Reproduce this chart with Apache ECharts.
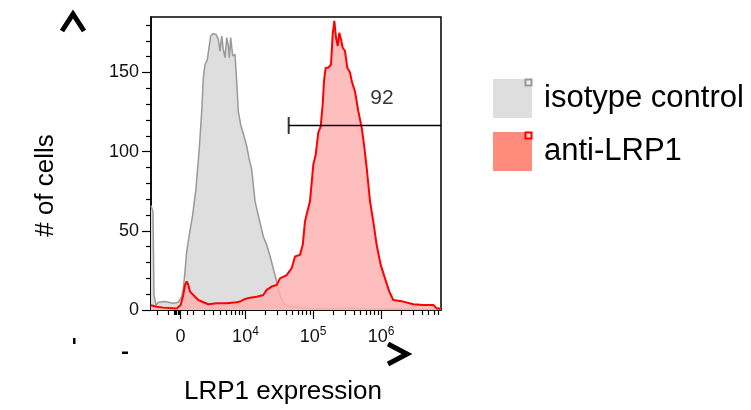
<!DOCTYPE html>
<html>
<head>
<meta charset="utf-8">
<script src="https://cdn.jsdelivr.net/npm/echarts@6/dist/echarts.min.js"></script>
<style>
  html, body { margin: 0; padding: 0; background: #fff; }
  #chart { width: 751px; height: 410px; }
</style>
</head>
<body>
<div id="chart"></div>
<script>
// histogram positions are on the biexponential display scale (decades above 0)
const isotypePos = [-0.434, -0.405, -0.390, -0.360, -0.326, -0.228, -0.106, -0.032,
  0.018, 0.041, 0.066, 0.091, 0.129, 0.179, 0.228, 0.276, 0.312, 0.335,
  0.360, 0.394, 0.419, 0.444, 0.482, 0.522, 0.556, 0.581, 0.606, 0.629,
  0.654, 0.679, 0.703, 0.718, 0.738, 0.768, 0.801, 0.826, 0.850, 0.885,
  0.934, 0.974, 1.007, 1.047, 1.096, 1.159, 1.218, 1.268, 1.326, 1.375,
  1.415, 1.463, 1.512, 1.610, 1.900, 2.200, 2.500, 2.800, 3.100, 3.400,
  3.831];
const isotypeCount = [66, 62, 9.5, 3, 4.9, 5.3, 4.2, 4.9,
  8.4, 13.7, 24.3, 36.9, 47.5, 60.1, 77, 102, 125.5, 146.6,
  155, 158, 165.6, 173, 174.5, 174, 171, 163.5, 173, 164.6,
  159.3, 172, 166.7, 159.3, 172, 160.4, 161.4, 144.5, 125.5, 117,
  109.7, 103.4, 96, 88.6, 68.6, 57, 46.4, 41, 32.7, 24.3,
  18, 9.5, 4.2, 2, 1, 0.6, 1.2, 0.5, 0.8, 0.4,
  0.3];

const lrp1Pos = [-0.434, -0.424, -0.350, -0.253, -0.056, 0.003, 0.041, 0.066, 0.091, 0.115,
  0.140, 0.188, 0.262, 0.335, 0.409, 0.532, 0.679, 0.826, 0.875, 0.949,
  1.022, 1.121, 1.218, 1.268, 1.341, 1.415, 1.463, 1.562, 1.635, 1.684,
  1.757, 1.797, 1.831, 1.865, 1.904, 1.953, 1.988, 2.026, 2.062, 2.091,
  2.110, 2.135, 2.174, 2.213, 2.238, 2.262, 2.287, 2.312, 2.335, 2.360,
  2.385, 2.419, 2.453, 2.493, 2.518, 2.566, 2.615, 2.665, 2.699, 2.738,
  2.787, 2.835, 2.885, 2.944, 3.007, 3.071, 3.129, 3.276, 3.424, 3.571,
  3.718, 3.768, 3.831];
const lrp1Count = [3, 2.1, 2, 1.5, 1, 3.2, 9.5, 15.8, 18, 15.8,
  11.6, 9.5, 6.3, 4.9, 3.6, 4.2, 4.2, 4.9, 5.3, 7,
  7.8, 8.4, 9.5, 12.7, 14.8, 15.8, 20, 22, 26.4, 33.8,
  34.8, 41, 56, 62, 68.6, 91.8, 98, 112, 116, 129.8,
  144.5, 153, 153, 155, 174, 182.5, 172, 166.7, 175, 171,
  165.6, 163.5, 153, 150, 144.5, 138, 125.5, 115, 104.4, 89.7,
  68.6, 56, 41, 28.5, 20, 11.6, 6.3, 5.3, 3.6, 3.2,
  3.2, 1, 1];

// gate (positions on display scale, level in cells)
const gateStart = 1.591;
const gateEnd = 3.831;
const gateLevel = 116.5;
const gateText = '92';
const gateTextPos = 2.963;
const gateTextLevel = 133.5;

// x ticks as raw expression values
const xMajorValues = [0, 1e4, 1e5, 1e6];
const xMajorLabels = ['0', '10^4', '10^5', '10^6'];
const xMinorValues = [-2000, -1000, -500, -400, -300, -200, -100, 500, 1000,
  2000, 3000, 4000, 5000, 6000, 7000, 8000, 9000,
  2e4, 3e4, 4e4, 5e4, 6e4, 7e4, 8e4, 9e4,
  2e5, 3e5, 4e5, 5e5, 6e5, 7e5, 8e5, 9e5,
  2e6, 3e6, 4e6, 5e6, 6e6, 7e6];
const yMajorValues = [0, 50, 100, 150];
const yMinorValues = [10, 20, 30, 40, 60, 70, 80, 90, 110, 120, 130, 140, 160, 170, 180];

const xMin = -0.434, xMax = 3.831, yMax = 185;
const FONT = '"Liberation Sans", Arial, sans-serif';

// biexponential-like display transform
const biex = v => Math.asinh(v / 2244) / Math.LN10;
const xMajorPos = xMajorValues.map(biex);
const xMinorPos = xMinorValues.map(biex);

const zip = (a, b) => a.map((v, i) => [v, b[i]]);

const chart = echarts.init(document.getElementById('chart'));

const option = {
  animation: false,
  textStyle: { fontFamily: FONT },
  grid: {
    left: 151, top: 17, width: 290, height: 293,
    show: true, borderColor: '#000', borderWidth: 1.5, backgroundColor: 'transparent'
  },
  legend: {
    orient: 'vertical',
    left: 493,
    top: 79,
    padding: 0,
    itemWidth: 39,
    itemHeight: 39,
    itemGap: 14,
    icon: 'rect',
    selectedMode: false,
    textStyle: { fontSize: 31, color: '#000', fontFamily: FONT, padding: [0, 0, 0, 7] },
    data: [
      { name: 'isotype control', itemStyle: { color: '#dedede', borderWidth: 0 } },
      { name: 'anti-LRP1', itemStyle: { color: '#fe8b7b', borderWidth: 0 } }
    ]
  },
  xAxis: [
    {
      type: 'value', min: xMin, max: xMax,
      name: 'LRP1 expression', nameLocation: 'middle', nameGap: 69,
      nameTextStyle: { fontSize: 26, color: '#000', fontFamily: FONT, padding: [0, 26, 0, 0] },
      axisLine: { show: true, onZero: false, lineStyle: { color: '#000', width: 1.5 } },
      splitLine: { show: false },
      axisTick: { show: true, customValues: xMajorPos, length: 9, lineStyle: { color: '#000', width: 1.2 } },
      axisLabel: {
        customValues: xMajorPos,
        margin: 16,
        formatter: function (v) {
          const i = xMajorPos.findIndex(p => Math.abs(p - v) < 1e-6);
          const t = i >= 0 ? xMajorLabels[i] : '';
          const parts = t.split('^');
          return parts.length > 1 ? '{b|' + parts[0] + '}{s|' + parts[1] + '}' : '{b|' + t + '}';
        },
        rich: {
          b: { fontSize: 18, color: '#111', fontFamily: FONT, lineHeight: 20, verticalAlign: 'bottom', padding: [6, 0, 0, 0] },
          s: { fontSize: 12, color: '#111', fontFamily: FONT, lineHeight: 14, verticalAlign: 'top' }
        }
      }
    },
    {
      type: 'value', min: xMin, max: xMax, position: 'bottom',
      axisLine: { show: false, onZero: false },
      splitLine: { show: false },
      axisLabel: { show: false },
      axisTick: { show: true, customValues: xMinorPos, length: 5, lineStyle: { color: '#000', width: 1.2 } }
    }
  ],
  yAxis: [
    {
      type: 'value', min: 0, max: yMax,
      name: '# of cells', nameLocation: 'middle', nameGap: 92, nameRotate: 90,
      nameTextStyle: { fontSize: 26, color: '#000', fontFamily: FONT, padding: [0, 44, 0, 0] },
      axisLine: { show: true, onZero: false, lineStyle: { color: '#000', width: 1.5 } },
      splitLine: { show: false },
      axisTick: { show: true, customValues: yMajorValues, length: 9, lineStyle: { color: '#000', width: 1.2 } },
      axisLabel: { customValues: yMajorValues, margin: 12, fontSize: 18, color: '#111', fontFamily: FONT }
    },
    {
      type: 'value', min: 0, max: yMax, position: 'left', offset: 0,
      axisLine: { show: false, onZero: false },
      splitLine: { show: false },
      axisLabel: { show: false },
      axisTick: { show: true, customValues: yMinorValues, length: 5, lineStyle: { color: '#000', width: 1.2 } }
    }
  ],
  series: [
    {
      name: 'isotype control',
      type: 'line',
      data: zip(isotypePos, isotypeCount),
      symbol: 'none',
      color: '#999',
      lineStyle: { color: '#999', width: 1.5 },
      areaStyle: { color: '#dedede', opacity: 1 },
      z: 2
    },
    {
      name: 'anti-LRP1',
      type: 'line',
      data: zip(lrp1Pos, lrp1Count),
      symbol: 'none',
      color: '#ff0000',
      lineStyle: { color: '#ff0000', width: 2 },
      areaStyle: { color: '#ffb3b3', opacity: 0.85 },
      z: 3
    },
    {
      name: 'gate',
      type: 'line',
      data: [[gateStart, gateLevel], [gateEnd, gateLevel]],
      symbol: 'none',
      silent: true,
      lineStyle: { color: '#000', width: 1.5 },
      z: 4
    },
    {
      name: 'gate-cap',
      type: 'scatter',
      data: [[gateStart, gateLevel]],
      symbol: 'rect',
      symbolSize: [2, 17],
      itemStyle: { color: '#000' },
      silent: true,
      z: 4
    },
    {
      name: 'gate-label',
      type: 'scatter',
      data: [[gateTextPos, gateTextLevel]],
      symbolSize: 0,
      silent: true,
      label: { show: true, position: 'inside', formatter: gateText, fontSize: 21, color: '#000', fontFamily: FONT },
      z: 4
    }
  ],
  graphic: [
    { type: 'polyline', shape: { points: [[62, 31], [73, 14], [84, 31]] }, style: { stroke: '#000', lineWidth: 5, fill: null } },
    { type: 'polyline', shape: { points: [[388, 344], [407, 354], [388, 364]] }, style: { stroke: '#000', lineWidth: 5, fill: null } },
    { type: 'rect', shape: { x: 73, y: 338, width: 2.5, height: 6 }, style: { fill: '#000' } },
    { type: 'rect', shape: { x: 122, y: 351.5, width: 6, height: 2.5 }, style: { fill: '#000' } },
    { type: 'rect', shape: { x: 525.5, y: 79.5, width: 6, height: 6 }, style: { fill: '#eee', stroke: '#999', lineWidth: 2 }, z: 100 },
    { type: 'rect', shape: { x: 525.5, y: 132.5, width: 6, height: 6 }, style: { fill: '#fdd', stroke: '#f00', lineWidth: 2 }, z: 100 }
  ]
};

chart.setOption(option);
</script>
</body>
</html>
